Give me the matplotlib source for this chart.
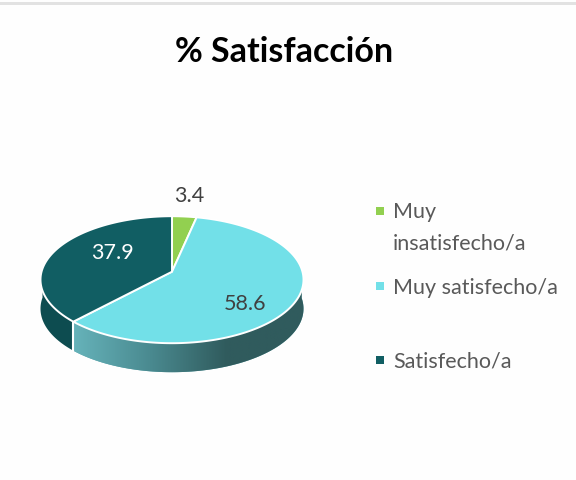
import numpy as np
import matplotlib
matplotlib.use("Agg")
import matplotlib.pyplot as plt
from matplotlib.colors import LinearSegmentedColormap
from matplotlib.patches import Polygon, Rectangle

categories = ["Muy\ninsatisfecho/a", "Muy satisfecho/a", "Satisfecho/a"]
values = [3.4, 58.6, 37.9]
colors = ["#92D050", "#72E0E8", "#115E63"]
side_colors = ["#6F9E3C", "#5FA9B0", "#0D4C50"]
label_colors = ["#404040", "#404040", "#FFFFFF"]
label_pos = [(189, 196), (245, 304), (112, 253)]
legend_y = [212, 287, 361]

CX, CY = 172, 280.7
RX, RY = 131.5, 63.5
TILT = 0.126
DEPTH = 29

plt.rcParams["font.family"] = ["Lato", "DejaVu Sans"]


def project(theta):
    # point on the disc (clockwise from 12 o'clock) to pixels, with perspective
    u = np.sin(theta)
    v = np.cos(theta)
    d = 1 + TILT * v
    return CX + RX * u * np.sqrt(1 - TILT ** 2) / d, CY - RY * (v + TILT) / d


fig = plt.figure(figsize=(5.76, 4.81), dpi=100, facecolor="#FEFEFE")
ax = fig.add_axes([0, 0, 1, 1])
ax.set_xlim(0, 576)
ax.set_ylim(481, 0)
ax.axis("off")

ax.add_patch(Rectangle((0, 3), 576, 2.5, color="#E2E2E2", lw=0))
ax.text(284.5, 52, "% Satisfacción", fontsize=24.5, fontweight="bold", color="#000000",
        ha="center", va="center")

fractions = np.array(values) / sum(values)
edges = np.concatenate([[0], np.cumsum(fractions)]) * 2 * np.pi
apex = (CX, CY - RY * TILT)

# side wall, only the front half of the rim shows
for i in [2, 1]:
    t = np.linspace(edges[i], edges[i + 1], 200)
    x, y = project(t)
    keep = np.cos(t) < 0.05
    x, y = x[keep], y[keep]
    wall = np.column_stack([np.r_[x, x[::-1]], np.r_[y, y[::-1] + DEPTH]])
    patch = Polygon(wall, closed=True, fc=side_colors[i], ec="none")
    ax.add_patch(patch)
    if i == 1:
        cmap = LinearSegmentedColormap.from_list("wall", ["#66B3BA", "#4A8A90", "#305B5D", "#305B5D"])
        grad = np.linspace(0, 1, 256).reshape(1, -1)
        im = ax.imshow(grad, cmap=cmap, extent=(x.min(), x.max(), 390, 270), aspect="auto", zorder=2)
        im.set_clip_path(patch)

ax.set_xlim(0, 576)
ax.set_ylim(481, 0)

# white seam between the two walls
sx, sy = project(np.array(edges[2]))
ax.plot([sx, sx], [sy, sy + DEPTH], color="white", lw=1.5, zorder=3)

# top face
for i in range(3):
    t = np.linspace(edges[i], edges[i + 1], 200)
    x, y = project(t)
    pts = np.column_stack([np.r_[apex[0], x], np.r_[apex[1], y]])
    ax.add_patch(Polygon(pts, closed=True, fc=colors[i], ec="white", lw=1.4,
                         joinstyle="round", zorder=4))

for val, pos, col in zip(values, label_pos, label_colors):
    ax.text(pos[0], pos[1], f"{val}", fontsize=15.5, color=col, ha="center", va="center", zorder=5)

# legend
for name, y, col in zip(categories, legend_y, colors):
    ax.add_patch(Rectangle((376, y - 4), 8, 8, color=col, lw=0))
    if "\n" in name:
        first, second = name.split("\n")
        ax.text(393, y + 0.5, first, fontsize=15.5, color="#595959", va="center")
        ax.text(393, y + 31.5, second, fontsize=15.5, color="#595959", va="center")
    else:
        ax.text(393, y + 1, name, fontsize=15.5, color="#595959", va="center")

fig.savefig("out.png", dpi=100, facecolor=fig.get_facecolor())
